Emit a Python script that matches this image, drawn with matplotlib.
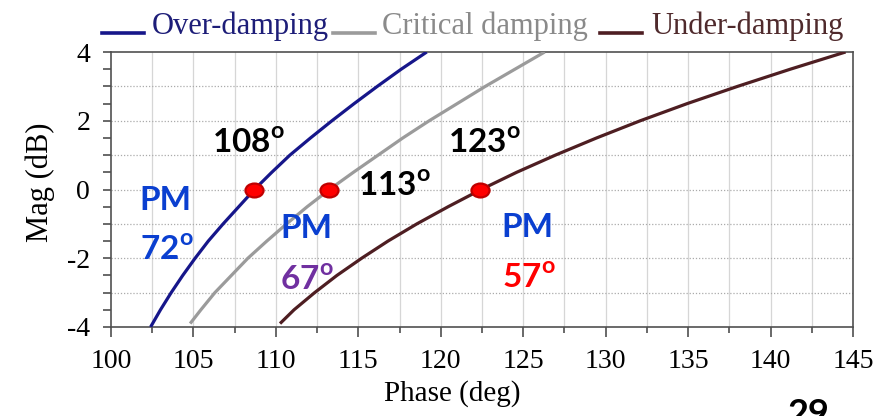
import matplotlib
matplotlib.use("Agg")
import matplotlib.pyplot as plt
from matplotlib.lines import Line2D
from matplotlib.path import Path
from matplotlib.transforms import Affine2D
from matplotlib.ticker import MultipleLocator

# ---- data -------------------------------------------------------------
series_names = ["Over-damping", "Critical damping", "Under-damping"]

over_mag = [-4.0, -3.5, -3.0, -2.5, -2.0, -1.5, -1.0, -0.5, 0.0,
            0.5, 1.0, 1.5, 2.0, 2.5, 3.0, 3.5, 4.0]
over_phase = [102.4, 103.0, 103.65, 104.35, 105.1, 105.9, 106.8, 107.75, 108.7,
              109.75, 110.85, 112.1, 113.4, 114.75, 116.15, 117.6, 119.15]

crit_mag = [-3.9, -3.5, -3.0, -2.5, -2.0, -1.5, -1.0, -0.5, 0.0,
            0.5, 1.0, 1.5, 2.0, 2.5, 3.0, 3.5, 4.0]
crit_phase = [104.8, 105.45, 106.3, 107.3, 108.3, 109.45, 110.65, 111.9, 113.25,
              114.7, 116.2, 117.7, 119.3, 121.0, 122.7, 124.5, 126.3]

under_mag = [-3.9, -3.5, -3.0, -2.5, -2.0, -1.5, -1.0, -0.5, 0.0,
             0.5, 1.0, 1.5, 2.0, 2.5, 3.0, 3.5, 4.0]
under_phase = [110.25, 111.1, 112.35, 113.7, 115.2, 116.8, 118.55, 120.45, 122.45,
               124.6, 126.95, 129.45, 132.1, 134.95, 138.0, 141.2, 144.55]

crossover_phase = [108.7, 113.2, 122.4]
crossover_mag = [0.0, 0.0, 0.0]
crossover_labels = ["108", "113", "123"]
pm_labels = ["72", "67", "57"]

x_ticks = [100, 105, 110, 115, 120, 125, 130, 135, 140, 145]
y_ticks = [-4, -2, 0, 2, 4]

# ---- style ------------------------------------------------------------
plt.rcParams["axes.unicode_minus"] = False
serif = "Liberation Serif"
sans = "Lato"

line_colors = ["#16168a", "#9b9b9b", "#4e1e22"]
text_colors = ["#1d1d78", "#8a8a8a", "#4f2a2c"]
pm_num_colors = ["#0a3fd0", "#7030a0", "#ff0000"]
pm_color = "#0a3fd0"

W, H = 896, 416
fig = plt.figure(figsize=(W / 100, H / 100), dpi=100)
ax = fig.add_axes([111 / W, 1 - 327 / H, 742 / W, 275 / H])

ax.set_xlim(100, 145)
ax.set_ylim(-4, 4)

# grid: solid verticals every 2.5 deg, dotted horizontals every 1 dB
for xv in [102.5 + 2.5 * i for i in range(17)]:
    ax.axvline(xv, color="#d6d6d6", lw=0.9, zorder=0)
for yv in range(-3, 4):
    ax.axhline(yv, color="#ababab", lw=0.9, ls=(0, (1, 1.5)), zorder=0)

curves = [(over_phase, over_mag), (crit_phase, crit_mag), (under_phase, under_mag)]
for (ph, mg), c in zip(curves, line_colors):
    ax.plot(ph, mg, color=c, lw=2.3, solid_capstyle="butt",
            solid_joinstyle="round", zorder=3)

# slightly wide oval dots on the 0 dB crossings
oval = Path.unit_circle().transformed(Affine2D().scale(1.3, 1.0))
ax.plot(crossover_phase, crossover_mag, ls="none", marker=oval, markersize=13,
        markerfacecolor="#ff0000", markeredgecolor="#c00000",
        markeredgewidth=1.6, zorder=5)

# ticks and spines
ax.xaxis.set_minor_locator(MultipleLocator(2.5))
ax.yaxis.set_minor_locator(MultipleLocator(0.5))
ax.set_xticks(x_ticks)
ax.set_yticks(y_ticks)
ax.set_xticklabels([str(v) for v in x_ticks], fontfamily=serif, fontsize=20)
ax.set_yticklabels([str(v) for v in y_ticks], fontfamily=serif, fontsize=20)
ax.tick_params(axis="x", which="major", direction="out", length=7, width=1.1,
               color="#404040", pad=9)
ax.tick_params(axis="x", which="minor", direction="out", length=4.5, width=1.1,
               color="#404040")
ax.tick_params(axis="y", which="both", direction="out", length=6, width=1.1,
               color="#404040", pad=9)
for s in ax.spines.values():
    s.set_color("#505050")
    s.set_linewidth(1.2)

ax.set_xlabel("Phase (deg)", fontfamily=serif, fontsize=21)
ax.xaxis.set_label_coords((452 - 111) / 742, (327 - 380) / 275)
ax.set_ylabel("Mag (dB)", fontfamily=serif, fontsize=22)
ax.yaxis.set_label_coords((55 - 111) / 742, (327 - 182) / 275)

# annotations
ann_kw = dict(fontfamily=sans, fontweight="bold", fontsize=24, zorder=6)
cross_pos = [(106.1, 1.06), (114.95, -0.2), (120.45, 1.06)]
for (x, y), lab in zip(cross_pos, crossover_labels):
    ax.text(x, y, lab + r"$^{\mathregular{o}}$", color="black",
            ha="left", va="baseline", **ann_kw)

pm_pos = [(101.75, -0.6, -2.05), (110.25, -1.42, -2.92), (123.7, -1.38, -2.86)]
for (x, y_pm, y_num), lab, c in zip(pm_pos, pm_labels, pm_num_colors):
    ax.text(x, y_pm, "PM", color=pm_color, ha="left", va="baseline", **ann_kw)
    ax.text(x, y_num, lab + r"$^{\mathregular{o}}$", color=c,
            ha="left", va="baseline", **ann_kw)

# legend across the top
handle_x = [102, 333, 600]
label_x = [152, 382, 651]
for hx, lx, name, lc, tc in zip(handle_x, label_x, series_names,
                                line_colors, text_colors):
    fig.add_artist(Line2D([hx / W, (hx + 42) / W], [1 - 33 / H, 1 - 33 / H],
                          color=lc, lw=2.6, transform=fig.transFigure))
    fig.text(lx / W, 1 - 34 / H, name, color=tc, fontfamily=serif,
             fontsize=22, ha="left", va="baseline")

# page number at the bottom edge
fig.text(809 / W, 1 - 398 / H, "29", fontfamily=sans, fontweight="bold",
         fontsize=26, ha="center", va="top", color="black")

fig.savefig("out.png", dpi=100, facecolor="white")
